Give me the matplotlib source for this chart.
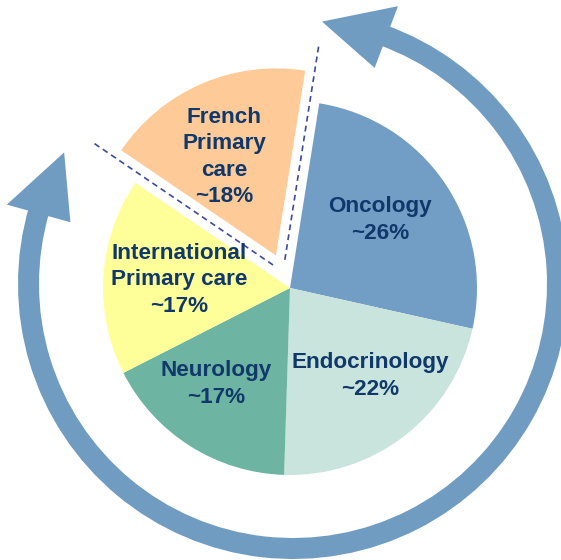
import numpy as np
import matplotlib
matplotlib.use("Agg")
import matplotlib.pyplot as plt
from matplotlib.patches import Wedge, Polygon

# Portfolio split by therapeutic area
categories = ["Oncology", "Endocrinology", "Neurology",
              "International\nPrimary care", "French\nPrimary\ncare"]
shares = [26, 22, 17, 17, 18]
colors = ["#729DC4", "#C8E4DC", "#6DB5A2", "#FFFF99", "#FDCA98"]
explode = [0, 0, 0, 0, 0.19]

# label anchor points, in pixels from the top-left corner
label_px = [(380, 220), (370, 376), (216, 384), (179, 280), (224, 157)]

W, H = 561, 560
R_PX = 187.0             # pie radius in pixels
PIE_C_PX = (290, 288)    # pie centre in pixels (top-left origin)
RING_C_PX = (293, 284)   # circular arrow centre in pixels
TEXT = "#10386B"
ARROW = "#709CC1"


def to_units(px, py):
    """Pixel position (top-left origin) -> data units (pie radius = 1)."""
    return (px - PIE_C_PX[0]) / R_PX, (PIE_C_PX[1] - py) / R_PX


fig = plt.figure(figsize=(W / 100, H / 100), dpi=100)
ax = fig.add_axes([0, 0, 1, 1])

wedges, _ = ax.pie(shares, colors=colors, explode=explode, startangle=81,
                   counterclock=False, radius=1.0, center=(0, 0),
                   wedgeprops=dict(linewidth=0))

x0, y1 = to_units(0, 0)
x1, y0 = to_units(W, H)
ax.set_xlim(x0, x1)
ax.set_ylim(y0, y1)
ax.set_aspect("equal")
ax.axis("off")

# slice labels
for name, val, (px, py) in zip(categories, shares, label_px):
    x, y = to_units(px, py)
    ax.text(x, y, f"{name}\n~{val}%", ha="center", va="center",
            fontsize=16.2, fontweight="bold", color=TEXT,
            family="Liberation Sans", linespacing=1.32)

# dashed guides along the edges of the detached slice
fr = wedges[4]
mid_c = np.array(fr.center) * 0.5
for ang in (fr.theta1, fr.theta2):
    a = np.deg2rad(ang)
    r = np.array([12, 231]) / R_PX
    ax.plot(mid_c[0] + r * np.cos(a), mid_c[1] + r * np.sin(a),
            color="#3A4B9C", lw=1.2, dashes=(3.5, 2.5), solid_capstyle="butt")

# double-headed circular arrow
rc = np.array(to_units(*RING_C_PX))
r_in, r_out = 254 / R_PX, 275 / R_PX
r_mid = 264 / R_PX
head_in, head_out = 231 / R_PX, 297 / R_PX


def polar(ang, r):
    a = np.deg2rad(ang)
    return rc + r * np.array([np.cos(a), np.sin(a)])


left_base, left_tip = 164.5, 150.1
top_base, top_tip = 69.3 + 360, 83.7 + 360

ax.add_patch(Wedge(rc, r_out, left_base - 1, top_base + 1,
                   width=r_out - r_in, facecolor=ARROW, edgecolor="none"))
ax.add_patch(Polygon([polar(left_tip, r_mid), polar(left_base, head_out),
                      polar(left_base, head_in)], closed=True,
                     facecolor=ARROW, edgecolor="none"))
ax.add_patch(Polygon([polar(top_tip, r_mid), polar(top_base, head_out),
                      polar(top_base, head_in)], closed=True,
                     facecolor=ARROW, edgecolor="none"))

fig.savefig("out.png", dpi=100, facecolor="white")
